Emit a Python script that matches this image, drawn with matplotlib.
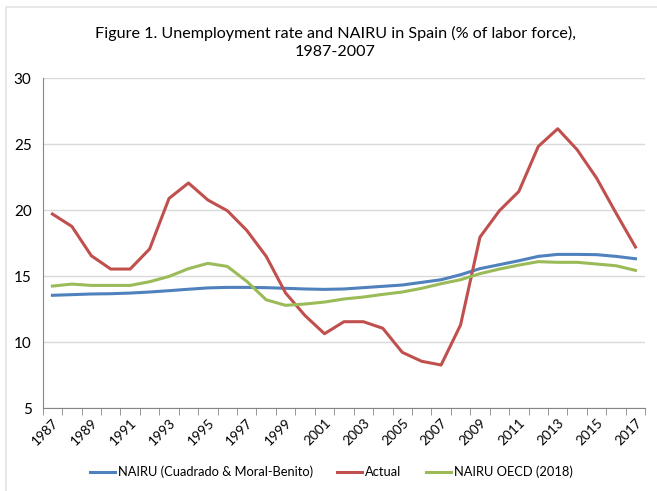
import numpy as np
import matplotlib.pyplot as plt
import matplotlib.transforms as mtrans
from matplotlib.patches import Rectangle

plt.rcParams['font.family'] = ['Lato', 'DejaVu Sans']

years = list(range(1987, 2018))
actual = [19.7, 18.76, 16.54, 15.53, 15.53, 17.05, 20.88, 22.05, 20.76, 19.95,
          18.46, 16.49, 13.71, 12.0, 10.63, 11.54, 11.54, 11.04, 9.22, 8.54,
          8.26, 11.29, 17.95, 19.95, 21.41, 24.82, 26.16, 24.57, 22.42, 19.77, 17.2]
nairu_cmb = [13.54, 13.59, 13.64, 13.66, 13.71, 13.79, 13.89, 14.0, 14.1, 14.14,
             14.14, 14.12, 14.07, 14.02, 13.99, 14.02, 14.12, 14.22, 14.32, 14.52,
             14.72, 15.1, 15.56, 15.86, 16.16, 16.49, 16.64, 16.64, 16.62, 16.49, 16.31]
nairu_oecd = [14.24, 14.39, 14.29, 14.29, 14.29, 14.57, 14.97, 15.56, 15.96, 15.73,
              14.6, 13.2, 12.78, 12.88, 13.03, 13.26, 13.41, 13.61, 13.79, 14.07,
              14.42, 14.72, 15.18, 15.53, 15.83, 16.09, 16.04, 16.04, 15.91, 15.78, 15.43]

fig = plt.figure(figsize=(6.57, 4.91), dpi=100)

# light chart-area border (only top and left fall inside the crop)
fig.patches.append(Rectangle((6 / 657, -0.1), 1.2, 1.1 - 7 / 491, transform=fig.transFigure,
                             fill=False, edgecolor='#E3E3E3', lw=1.2))

ax = fig.add_axes([0.065, 0.169, 0.917, 0.672])

x = np.arange(len(years))
ax.plot(x, nairu_cmb, color='#4F81BD', lw=2.2, label='NAIRU (Cuadrado & Moral-Benito)')
ax.plot(x, actual, color='#C0504D', lw=2.2, label='Actual')
ax.plot(x, nairu_oecd, color='#9BBB59', lw=2.2, label='NAIRU OECD (2018)')

ax.set_ylim(5, 30)
ax.set_yticks([5, 10, 15, 20, 25, 30])
ax.set_xlim(-0.5, len(years) - 0.5)
ax.set_xticks(x[::2])
ax.set_xticklabels([str(y) for y in years[::2]], rotation=45, fontsize=9.8,
                   ha='right', rotation_mode='anchor')
shift = mtrans.ScaledTranslation(4 / 100, 0, fig.dpi_scale_trans)
for lab in ax.get_xticklabels():
    lab.set_transform(lab.get_transform() + shift)
ax.set_xticks(np.arange(-0.5, len(years)), minor=True)
ax.tick_params(axis='x', which='major', length=0, pad=6)
ax.tick_params(axis='x', which='minor', length=5, color='#868686')
ax.tick_params(axis='y', length=0, labelsize=11, pad=8)

ax.grid(axis='y', color='#D9D9D9', lw=1)
ax.set_axisbelow(True)
for s in ['top', 'right']:
    ax.spines[s].set_visible(False)
for s in ['left', 'bottom']:
    ax.spines[s].set_color('#868686')

fig.text(0.51, 0.914, 'Figure 1. Unemployment rate and NAIRU in Spain (% of labor force),\n1987-2007',
         ha='center', va='center', fontsize=11.6, linespacing=1.35)

fig.legend(loc='center', bbox_to_anchor=(0.504, 0.039), ncol=3, frameon=False,
           fontsize=9.3, handlelength=1.95, columnspacing=1.9, handletextpad=0.2)

fig.savefig('out.png', dpi=100)
